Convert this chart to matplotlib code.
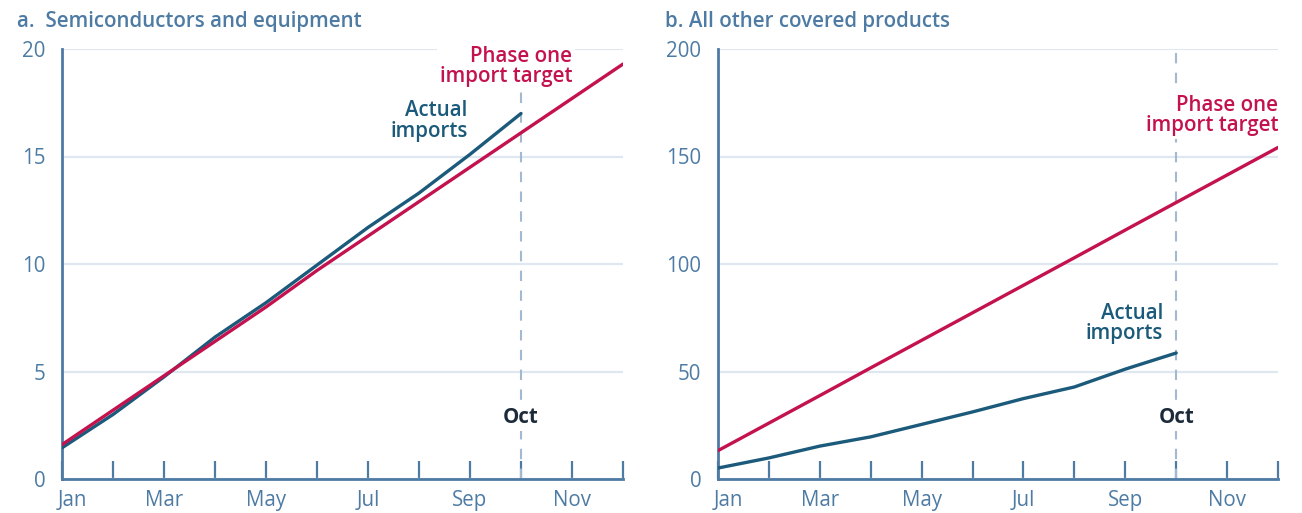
import numpy as np
import matplotlib
matplotlib.use("Agg")
import matplotlib.pyplot as plt
from matplotlib.transforms import ScaledTranslation

# ---------------- data (cumulative imports, USD bn) ----------------
months = ["Jan", "Feb", "Mar", "Apr", "May", "Jun",
          "Jul", "Aug", "Sep", "Oct", "Nov", "Dec"]
month_labels = ["Jan", "", "Mar", "", "May", "", "Jul", "", "Sep", "", "Nov", ""]

semi_target = [1.6, 3.2, 4.8, 6.4, 8.0, 9.7, 11.3, 12.9, 14.5, 16.1, 17.7, 19.3]
semi_actual = [1.45, 3.0, 4.75, 6.6, 8.2, 9.95, 11.7, 13.3, 15.1, 17.0]

other_target = [13.2, 26.0, 38.8, 51.7, 64.5, 77.3, 90.1, 102.9, 115.8, 128.6, 141.4, 154.2]
other_actual = [5.1, 9.8, 15.3, 19.6, 25.4, 31.2, 37.4, 42.8, 51.1, 58.6]

semi_yticks = [0, 5, 10, 15, 20]
other_yticks = [0, 50, 100, 150, 200]

# ---------------- style ----------------
C_ACTUAL = "#1b5a7a"
C_TARGET = "#c4124e"
C_AXIS = "#4e7ba3"
C_GRID = "#dfe8f1"
C_DASH = "#a3b9d0"
C_OCT = "#1c2a3a"
FONT = ["Open Sans", "DejaVu Sans"]
FS = 14.8

plt.rcParams["font.family"] = FONT

fig = plt.figure(figsize=(13.02, 5.13), dpi=100)
ax_a = fig.add_axes([62 / 1302, 34 / 513, 561 / 1302, 430 / 513])
ax_b = fig.add_axes([718 / 1302, 34 / 513, 560 / 1302, 430 / 513])


def style_axis(ax, yticks):
    x = np.arange(len(months))
    ax.set_xlim(0, len(months) - 1)
    ax.set_ylim(yticks[0], yticks[-1])
    ax.set_xticks(x)
    ax.set_xticklabels(month_labels)
    ax.set_yticks(yticks)
    ax.set_yticklabels([str(v) for v in yticks])
    for s in ["top", "right"]:
        ax.spines[s].set_visible(False)
    for s in ["left", "bottom"]:
        ax.spines[s].set_color(C_AXIS)
        ax.spines[s].set_linewidth(2.0)
    ax.tick_params(axis="x", direction="in", length=13, width=1.6,
                   color=C_AXIS, labelcolor=C_AXIS, labelsize=FS, pad=8)
    ax.tick_params(axis="y", length=0, labelcolor=C_AXIS, labelsize=FS, pad=12)
    ax.grid(axis="y", color=C_GRID, linewidth=1.6)
    ax.set_axisbelow(True)
    # "Jan" sits a little right of the axis line
    lbl = ax.get_xticklabels()[0]
    lbl.set_transform(lbl.get_transform() + ScaledTranslation(0.1, 0, fig.dpi_scale_trans))
    # October marker
    ax.axvline(9, color=C_DASH, linewidth=1.5, dashes=(5, 4.5), zorder=1)
    return x


x = style_axis(ax_a, semi_yticks)
ax_a.plot(x, semi_actual + [np.nan] * 2, color=C_ACTUAL, linewidth=2.4, zorder=6,
          solid_capstyle="round")
ax_a.plot(x, semi_target, color=C_TARGET, linewidth=2.4, zorder=7, solid_capstyle="round")

x = style_axis(ax_b, other_yticks)
ax_b.plot(x, other_actual + [np.nan] * 2, color=C_ACTUAL, linewidth=2.4, zorder=6,
          solid_capstyle="round")
ax_b.plot(x, other_target, color=C_TARGET, linewidth=2.4, zorder=7, solid_capstyle="round")

box = dict(facecolor="white", edgecolor="none", pad=2)

# panel a annotations
ax_a.text(7.95, 16.65, "Actual\nimports", color=C_ACTUAL, fontsize=FS, fontweight="semibold",
          ha="right", va="center", linespacing=0.95, zorder=5)
ax_a.text(10.0, 19.2, "Phase one\nimport target", color=C_TARGET, fontsize=FS,
          fontweight="semibold", ha="right", va="center", linespacing=0.95, bbox=box, zorder=5)
ax_a.text(9, 2.85, "Oct", color=C_OCT, fontsize=FS, fontweight="bold",
          ha="center", va="center", bbox=box, zorder=5)

# panel b annotations
ax_b.text(8.74, 72.3, "Actual\nimports", color=C_ACTUAL, fontsize=FS, fontweight="semibold",
          ha="right", va="center", linespacing=0.95, zorder=5)
ax_b.text(11.0, 169.0, "Phase one\nimport target", color=C_TARGET, fontsize=FS,
          fontweight="semibold", ha="right", va="center", linespacing=0.95, bbox=box, zorder=5)
ax_b.text(9, 28.5, "Oct", color=C_OCT, fontsize=FS, fontweight="bold",
          ha="center", va="center", bbox=box, zorder=5)

# panel titles
fig.text(17 / 1302, 1 - 27 / 513, "a.  Semiconductors and equipment", color=C_AXIS,
         fontsize=FS, fontweight="semibold", ha="left", va="baseline")
fig.text(665 / 1302, 1 - 27 / 513, "b. All other covered products", color=C_AXIS,
         fontsize=FS, fontweight="semibold", ha="left", va="baseline")

fig.savefig("out.png", dpi=100, facecolor="white")
